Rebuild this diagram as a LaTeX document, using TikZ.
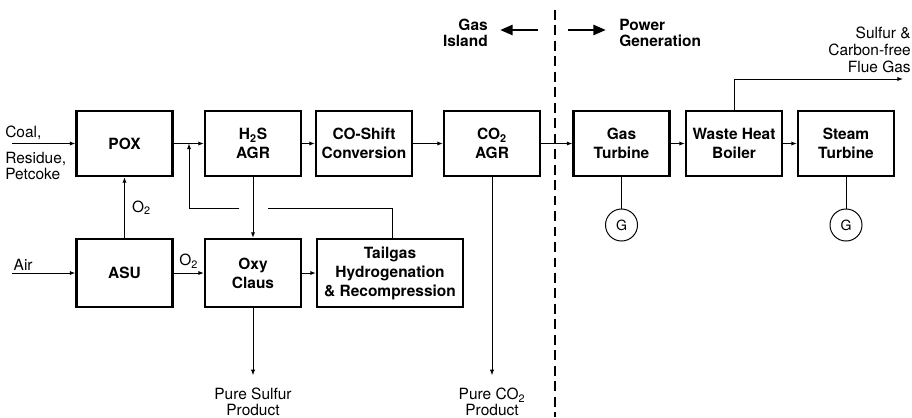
\documentclass[tikz,border=0pt]{standalone}
\usepackage{fontspec}
\setmainfont{TeX Gyre Heros}
\usetikzlibrary{arrows.meta,positioning,calc}

\begin{document}
\begin{tikzpicture}[x=0.025cm,y=-0.025cm,
  box/.style={draw,line width=1.5pt,minimum width=2.4cm,minimum height=1.625cm,align=center,inner sep=1pt,font=\fontsize{11}{13.5}\selectfont\bfseries},
  lowbox/.style={box,minimum height=1.7cm},
  gen/.style={draw,circle,line width=0.7pt,minimum size=0.8cm,inner sep=0pt,font=\fontsize{10}{12}\selectfont},
  lbl/.style={align=center,inner sep=0pt,font=\fontsize{11}{11}\selectfont},
  head/.style={lbl,font=\fontsize{11}{11.5}\selectfont\bfseries},
  flow/.style={line width=0.7pt,-{Latex[length=4pt,width=3pt]}},
  pipe/.style={line width=0.7pt},
  big/.style={line width=2pt,-{Triangle[length=9pt,width=7pt]}}]
  \useasboundingbox (0,0) rectangle (912,417);
  % gas island
  \node[box] (pox) at (124.5,143.5) {POX};
  \node[box] (h2s) at (253,143.5) {H\textsubscript{2}S\\AGR};
  \node[box] (shift) at (364,143.5) {CO-Shift\\Conversion};
  \node[box] (co2) at (492,143.5) {CO\textsubscript{2}\\AGR};
  \node[lowbox] (asu) at (124.5,273) {ASU};
  \node[lowbox] (oxy) at (253,273) {Oxy\\Claus};
  \node[lowbox,minimum width=3.65cm] (tail) at (390,273) {Tailgas\\Hydrogenation\\\& Recompression};
  % power block
  \node[box] (gt) at (621.5,143.5) {Gas\\Turbine};
  \node[box] (whb) at (734,143.5) {Waste Heat\\Boiler};
  \node[box] (st) at (846,143.5) {Steam\\Turbine};
  \node[gen] (g1) at (621.5,225) {G};
  \node[gen] (g2) at (846,225) {G};

  \coordinate (feed) at (12,143.5);
  \coordinate (air) at (12,273);
  \coordinate (mix) at (189,143.5);
  \coordinate (rc) at (392,208);
  \coordinate (gapr) at (268,208);
  \coordinate (gapl) at (239,208);
  \coordinate (flue) at (903,79);

  \node[lbl,anchor=base west] (coal) at (5,137) {Coal,};
  \node[lbl,anchor=north west,align=left,font=\fontsize{11}{11}\selectfont] (resid) at (5,152) {Residue,\\Petcoke};
  \node[lbl,anchor=south west,inner sep=1pt] (airlbl) at (12,272) {Air};
  \node[lbl,anchor=north] (sulfur) at (253,388) {Pure Sulfur\\Product};
  \node[lbl,anchor=north] (pco2) at (492,388) {Pure CO\textsubscript{2}\\Product};
  \node[lbl,anchor=east,align=right,font=\fontsize{11}{12}\selectfont] (fluegas) at (911,50) {Sulfur \&\\Carbon-free\\Flue Gas};
  \node[head,anchor=east,align=right] (island) at (488,33) {Gas\\Island};
  \node[head,anchor=west,align=left] (power) at (619,33) {Power\\Generation};

  \draw[flow] (feed) -- (pox);
  \draw[flow] (pox) -- (h2s);
  \draw[flow] (h2s) -- (shift);
  \draw[flow] (shift) -- (co2);
  \draw[flow] (co2) -- (gt);
  \draw[flow] (gt) -- (whb);
  \draw[flow] (whb) -- (st);
  \draw[flow] (air) -- (asu);
  \draw[flow] (asu) -- node[lbl,above=3pt] {O\textsubscript{2}} (oxy);
  \draw[flow] (asu) -- node[lbl,right=5pt] {O\textsubscript{2}} (pox);
  \draw[flow] (h2s) -- (oxy);
  \draw[flow] (oxy) -- (tail);
  \draw[flow,shorten >=9pt] (oxy) -- (sulfur);
  \draw[flow,shorten >=9pt] (co2) -- (pco2);
  \draw[pipe] (rc |- tail.north) -- (rc) -- (gapr);
  \draw[flow] (gapl) -| (mix);
  \draw[flow] (whb.north) |- (flue);
  \draw[pipe] (gt) -- (g1);
  \draw[pipe] (st) -- (g2);

  \draw[line width=2pt,dash pattern=on 7pt off 4pt] (555,10) -- (555,417);
  \draw[big] (538,30) -- (500,30);
  \draw[big] (568,30) -- (606,30);
\end{tikzpicture}
\end{document}
